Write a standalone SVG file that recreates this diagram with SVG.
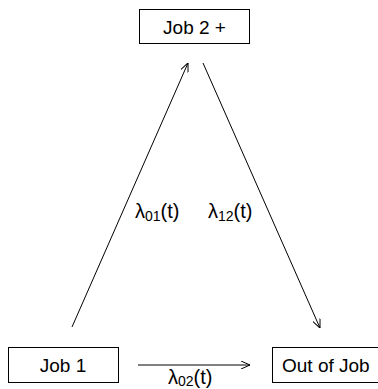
<svg xmlns="http://www.w3.org/2000/svg" width="378" height="389" viewBox="0 0 378 389">
<defs>
<marker id="arr" viewBox="0 0 9 8" refX="9" refY="4" markerWidth="9" markerHeight="8" markerUnits="userSpaceOnUse" orient="auto">
<path d="M0,0 L9,4 L0,8" fill="none" stroke="#000" stroke-width="1"/>
</marker>
<style>
.box{fill:#fff;stroke:#000;stroke-width:1}
.t{font-family:"Liberation Sans",Arial,sans-serif;font-size:19px;fill:#000}
.l{font-family:"Liberation Sans",Arial,sans-serif;font-size:20px;fill:#000}
.c{fill:none;stroke:#000;stroke-width:1}
.sub{font-size:14px}
</style>
</defs>
<rect width="378" height="389" fill="#fff"/>
<g id="connectors">
<line class="c" x1="72" y1="327" x2="188" y2="63" marker-end="url(#arr)"/>
<line class="c" x1="203" y1="63" x2="320" y2="328" marker-end="url(#arr)"/>
<line class="c" x1="138" y1="365" x2="250" y2="365" marker-end="url(#arr)"/>
<text class="l" x="135" y="218">λ<tspan class="sub" dy="3">01</tspan><tspan dy="-3">(t)</tspan></text>
<text class="l" x="208" y="218">λ<tspan class="sub" dy="3">12</tspan><tspan dy="-3">(t)</tspan></text>
<text class="l" x="168" y="384">λ<tspan class="sub" dy="2">02</tspan><tspan dy="-2">(t)</tspan></text>
</g>
<g id="job2">
<rect class="box" x="139.5" y="9.5" width="110" height="34"/>
<text class="t" x="194.5" y="33.5" text-anchor="middle">Job 2 +</text>
</g>
<g id="job1">
<rect class="box" x="8.5" y="347.5" width="110" height="35"/>
<text class="t" x="63" y="371.5" text-anchor="middle">Job 1</text>
</g>
<g id="out">
<rect class="box" x="272.5" y="347.5" width="110" height="35"/>
<text class="t" x="282" y="371.5">Out of Job</text>
</g>
</svg>
